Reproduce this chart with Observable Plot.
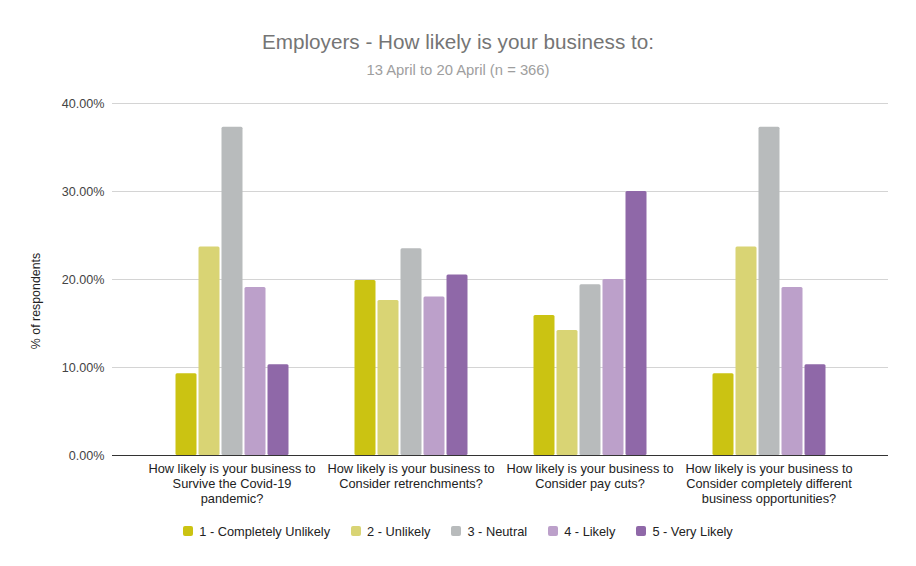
<!DOCTYPE html>
<html><head><meta charset="utf-8">
<script src="https://cdn.jsdelivr.net/npm/d3@7"></script>
<script src="https://cdn.jsdelivr.net/npm/@observablehq/plot@0.6"></script>
<style>
body{margin:0;background:#fff;font-family:"Liberation Sans",Arial,sans-serif;}
#wrap{position:relative;width:916px;height:566px;overflow:hidden;}
#head{height:90px;position:relative;}
#title{position:absolute;top:30px;left:0;width:916px;text-align:center;font-size:20.7px;color:#757575;line-height:24px;}
#sub{position:absolute;top:62px;left:0;width:916px;text-align:center;font-size:14.8px;color:#9e9e9e;line-height:16px;}
#ylab{position:absolute;left:36px;top:301px;transform:translate(-50%,-50%) rotate(-90deg);font-size:12.4px;color:#222;white-space:nowrap;}
#legend{display:flex;justify-content:center;gap:21px;font-size:12.8px;color:#222;height:32px;align-items:center;}
#legend .it{display:flex;align-items:center;gap:6px;}
#legend .sw{width:10px;height:10px;border-radius:2px;}
#chart{position:relative;width:916px;height:425px;}
#chart svg{display:block;position:absolute;left:0;top:0;}
</style></head>
<body>
<div id="wrap">
  <div id="head"><div id="title"></div><div id="sub"></div></div>
  <div id="chart"></div>
  <div id="legend"></div>
  <div id="ylab"></div>
</div>
<script>
const titleText = "Employers - How likely is your business to:";
const subtitleText = "13 April to 20 April (n = 366)";
const yLabel = "% of respondents";
const groups = ["survive", "retrench", "payCuts", "different"];
const groupLabels = [
  "How likely is your business to\nSurvive the Covid-19\npandemic?",
  "How likely is your business to\nConsider retrenchments?",
  "How likely is your business to\nConsider pay cuts?",
  "How likely is your business to\nConsider completely different\nbusiness opportunities?"
];
const series = ["1 - Completely Unlikely", "2 - Unlikely", "3 - Neutral", "4 - Likely", "5 - Very Likely"];
const colors = ["#cbc312", "#d9d474", "#b8bbbc", "#bca0ca", "#8f68a8"];
const survive = [9.3, 23.7, 37.3, 19.1, 10.3];
const retrench = [19.9, 17.6, 23.5, 18.0, 20.5];
const payCuts = [15.9, 14.2, 19.4, 20.0, 30.0];
const different = [9.3, 23.7, 37.3, 19.1, 10.3];
const yTicks = [0, 10, 20, 30, 40];

const valuesByGroup = {survive, retrench, payCuts, different};
const data = groups.flatMap(g => series.map((s, i) => ({group: g, series: s, value: valuesByGroup[g][i]})));
const labelOf = new Map(groups.map((g, i) => [g, groupLabels[i]]));

document.getElementById("title").textContent = titleText;
document.getElementById("sub").textContent = subtitleText;
document.getElementById("ylab").textContent = yLabel;

const font = '"Liberation Sans", Arial, sans-serif';
const common = {width: 916, height: 425, marginTop: 13, marginBottom: 60};

// Layer 1: full-width gridlines and y axis
const back = Plot.plot({
  ...common,
  marginLeft: 112,
  marginRight: 28,
  y: {domain: [0, 40], label: null},
  style: {fontFamily: font, fontSize: "12.6px", color: "#444", background: "#fff"},
  marks: [
    Plot.ruleY(yTicks.filter(d => d > 0), {stroke: "#d4d4d4", strokeWidth: 1}),
    Plot.axisY({ticks: yTicks, tickFormat: d => d.toFixed(2) + "%", tickSize: 0, tickPadding: 8, label: null, fontSize: 12.6, fill: "#444"})
  ]
});

// Layer 2: grouped bars in facets (centred bands), category labels
const front = Plot.plot({
  ...common,
  marginLeft: 141.5,
  marginRight: 58.5,
  y: {domain: [0, 40], label: null, axis: null},
  style: {fontFamily: font, fontSize: "12.8px", color: "#222", background: "transparent"},
  fx: {domain: groups, padding: 0, label: null},
  x: {domain: series, padding: 0.09, paddingOuter: 0, insetLeft: 33, insetRight: 33, axis: null},
  color: {domain: series, range: colors},
  marks: [
    Plot.barY(data, {fx: "group", x: "series", y: "value", fill: "series", rx: 1.5}),
    Plot.axisFx({anchor: "bottom", tickFormat: d => labelOf.get(d), tickSize: 0, tickPadding: 7, label: null, lineHeight: 1.17, fontSize: 12.8, fill: "#222"})
  ]
});

// Layer 3: baseline
const base = Plot.plot({
  ...common,
  marginLeft: 112,
  marginRight: 28,
  y: {domain: [0, 40], label: null, axis: null},
  style: {background: "transparent"},
  marks: [Plot.ruleY([0], {stroke: "#333", strokeWidth: 1})]
});

const chartEl = document.getElementById("chart");
chartEl.appendChild(back);
chartEl.appendChild(front);
chartEl.appendChild(base);

const legend = document.getElementById("legend");
series.forEach((s, i) => {
  const it = document.createElement("div"); it.className = "it";
  const sw = document.createElement("div"); sw.className = "sw"; sw.style.background = colors[i];
  const t = document.createElement("span"); t.textContent = s;
  it.appendChild(sw); it.appendChild(t); legend.appendChild(it);
});
</script>
</body></html>
